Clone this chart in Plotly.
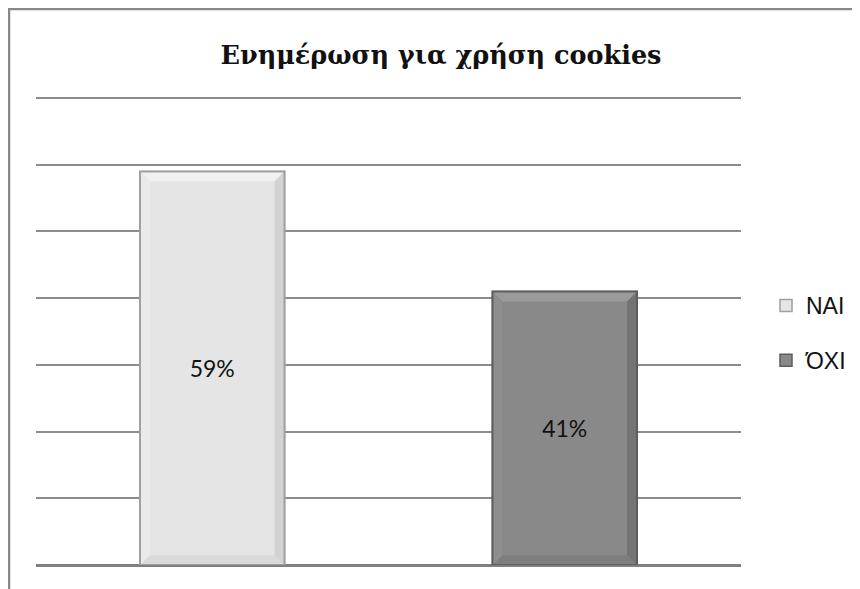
import plotly.graph_objects as go

categories = ["NAI", "ΌΧΙ"]
values = [0.59, 0.41]
labels = ["59%", "41%"]
grid_vals = [0.1, 0.2, 0.3, 0.4, 0.5, 0.6, 0.7]

# style: fill, top bevel, left bevel, right bevel, bottom bevel, outline
styles = [
    dict(fill="#e5e5e5", top="#f1f1f1", left="#eaeaea", right="#d2d2d2", bottom="#dadada", line="#a0a0a0"),
    dict(fill="#898989", top="#9b9b9b", left="#8e8e8e", right="#747474", bottom="#7e7e7e", line="#5e5e5e"),
]

# the page adds an 8px body margin; size the figure to fit inside the window
W, H = 852, 581
L, R, B = 28, 119, 24
plot_bottom = H - B
unit = 467 / 0.7            # pixels per value unit
T = 83
ymax = (plot_bottom - T) / unit
pw, ph = W - L - R, H - T - B
bar_w = 0.41
bev_x = 10 / (pw / 2.0)
bev_y = 10 / unit

def px(x):
    return (x - L) / pw

def py(y):
    return (H - B - y) / ph

fig = go.Figure()
shapes = []
for i, (c, v, lab) in enumerate(zip(categories, values, labels)):
    st = styles[i]
    fig.add_trace(go.Bar(
        x=[i], y=[v], name=c, text=[lab], textposition="inside",
        insidetextanchor="middle", width=bar_w,
        textfont=dict(family="Lato, Open Sans, sans-serif", size=23, color="#111"),
        marker=dict(color=st["fill"], line=dict(color=st["line"], width=1.5)),
        legendgroup=c, hoverinfo="skip",
    ))
    x0, x1 = i - bar_w / 2, i + bar_w / 2
    def poly(pts, col):
        d = "M " + " L ".join(f"{a},{b}" for a, b in pts) + " Z"
        return dict(type="path", xref="x", yref="y", path=d, fillcolor=col,
                    line=dict(width=0), layer="above")
    shapes.append(poly([(x0, v), (x1, v), (x1 - bev_x, v - bev_y), (x0 + bev_x, v - bev_y)], st["top"]))
    shapes.append(poly([(x0, 0), (x1, 0), (x1 - bev_x, bev_y), (x0 + bev_x, bev_y)], st["bottom"]))
    shapes.append(poly([(x0, 0), (x0, v), (x0 + bev_x, v - bev_y), (x0 + bev_x, bev_y)], st["left"]))
    shapes.append(poly([(x1, 0), (x1, v), (x1 - bev_x, v - bev_y), (x1 - bev_x, bev_y)], st["right"]))
    shapes.append(dict(type="rect", xref="x", yref="y", x0=x0, x1=x1, y0=0, y1=v,
                       line=dict(color=st["line"], width=2), layer="above"))

shapes += [
    dict(type="line", xref="paper", yref="paper", x0=px(0), x1=px(W + 5), y0=py(1), y1=py(1),
         line=dict(color="#888888", width=2.5)),
    dict(type="line", xref="paper", yref="paper", x0=px(1), x1=px(1), y0=py(0), y1=py(H + 5),
         line=dict(color="#888888", width=2.5)),
]

fig.update_layout(
    width=W, height=H,
    margin=dict(l=L, r=R, t=T, b=B, autoexpand=False),
    paper_bgcolor="white", plot_bgcolor="white",
    barmode="overlay",
    showlegend=True,
    title=dict(text="<b>Ενημέρωση για χρήση cookies</b>", x=433 / W, xanchor="center",
               y=1 - 47 / H, yanchor="middle",
               font=dict(family="DejaVu Serif, Liberation Serif, serif", size=25.5, color="#111")),
    xaxis=dict(showticklabels=False, ticks="", showgrid=False, zeroline=False,
               showline=False, range=[-0.5, 1.5], fixedrange=True),
    yaxis=dict(range=[0, ymax], tickmode="array", tickvals=grid_vals,
               showticklabels=False, ticks="",
               showgrid=True, gridcolor="#8c8c8c", gridwidth=2,
               zeroline=True, zerolinecolor="#808080", zerolinewidth=2.5, showline=False),
    legend=dict(x=px(758), y=py(276), xanchor="left", yanchor="top",
                font=dict(family="Liberation Sans, Arial, sans-serif", size=23, color="#111"),
                tracegroupgap=22, itemwidth=30, bgcolor="rgba(0,0,0,0)"),
    shapes=shapes,
)

fig.write_html("out.html")
